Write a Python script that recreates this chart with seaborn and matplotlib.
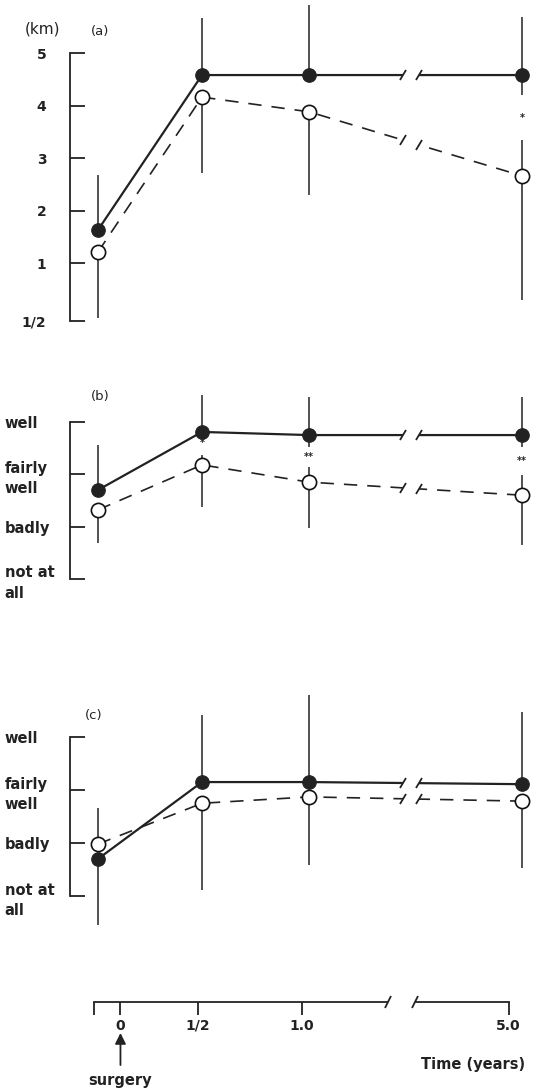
import numpy as np
import pandas as pd
import matplotlib
matplotlib.use("Agg")
import matplotlib.pyplot as plt
import seaborn as sns
from matplotlib.markers import MarkerStyle
from matplotlib.transforms import Affine2D, blended_transform_factory
from matplotlib.patches import Rectangle

# ---------------- data ----------------
time_labels = ["pre-op", "1/2", "1.0", "5.0"]
time_years = [-0.15, 0.5, 1.0, 5.0]

# (a) walking distance (km)
a_filled = [1.63, 4.58, 4.58, 4.58]
a_filled_hi = [2.68, 5.67, 5.91, 5.69]
a_filled_lo = [1.63, 4.58, 4.58, 4.20]
a_open = [1.21, 4.16, 3.88, 2.66]
a_open_hi = [1.21, 4.16, 3.88, 3.34]
a_open_lo = [-0.05, 2.71, 2.30, 0.30]
a_stars = ["", "", "", "*"]
a_ticks = [-0.1, 1, 2, 3, 4, 5]
a_ticklabels = ["1/2", "1", "2", "3", "4", "5"]

# (b)
b_filled = [1.70, 2.81, 2.75, 2.75]
b_filled_hi = [2.56, 3.52, 3.48, 3.48]
b_filled_lo = [1.70, 2.81, 2.52, 2.52]
b_open = [1.32, 2.18, 1.85, 1.60]
b_open_hi = [1.32, 2.37, 2.14, 1.99]
b_open_lo = [0.69, 1.37, 0.97, 0.65]
b_stars = ["", "*", "**", "**"]

# (c)
c_filled = [0.70, 2.15, 2.15, 2.11]
c_filled_hi = [0.70, 3.42, 3.79, 3.47]
c_filled_lo = [-0.55, 2.15, 2.15, 2.11]
c_open = [0.98, 1.75, 1.87, 1.79]
c_open_hi = [1.66, 1.75, 1.87, 1.79]
c_open_lo = [0.98, 0.11, 0.58, 0.53]
c_stars = ["", "", "", ""]

rating_ticks = [0, 1, 2, 3]
rating_labels = ["not at\nall", "badly", "fairly\nwell", "well"]

axis_ticks = [-0.17, 0, 0.5, 1.0, 5.0]
axis_ticklabels = ["", "0", "1/2", "1.0", "5.0"]

# ---------------- style ----------------
sns.set_style("ticks")
plt.rcParams["font.family"] = ["DejaVu Sans"]

W, H = 536, 1089
fig = plt.figure(figsize=(W / 100, H / 100), dpi=100)

INK = "#222222"

# broken, piecewise-linear time scale
T_KNOTS = np.array([-1.0, 0.0, 0.5, 1.0, 5.0, 6.0])
P_KNOTS = np.array([-38.0, 122.0, 202.0, 309.0, 522.0, 575.25])


def fwd(t):
    return np.interp(t, T_KNOTS, P_KNOTS)


def inv(p):
    return np.interp(p, P_KNOTS, T_KNOTS)


XLIM = (float(inv(70)), float(inv(530)))
GAP = (float(inv(403)), float(inv(419)))
GAP_AXIS = (float(inv(398)), float(inv(425)))

slash = MarkerStyle("|", transform=Affine2D().rotate_deg(-30))


def rect(top, bot, left=70, right=530):
    return [left / W, 1 - bot / H, (right - left) / W, (bot - top) / H]


def setup(ax, ylim):
    ax.set_xscale("function", functions=(fwd, inv))
    ax.set_xlim(*XLIM)
    ax.set_ylim(*ylim)
    for s in ["top", "right", "bottom"]:
        ax.spines[s].set_visible(False)
    ax.spines["left"].set_color(INK)
    ax.spines["left"].set_linewidth(1.3)
    ax.patch.set_alpha(0)


def draw_panel(ax, filled, f_hi, f_lo, opn, o_hi, o_lo, stars):
    df_f = pd.DataFrame({"t": time_years, "v": filled})
    df_o = pd.DataFrame({"t": time_years, "v": opn})
    sns.lineplot(data=df_f, x="t", y="v", ax=ax, color=INK, lw=1.6,
                 sort=False, estimator=None, zorder=2)
    sns.lineplot(data=df_o, x="t", y="v", ax=ax, color=INK, lw=1.2,
                 sort=False, estimator=None, zorder=2)
    ax.lines[-1].set_dashes((8, 6))
    # error bars (one-sided)
    ax.vlines(time_years, f_lo, f_hi, colors=INK, lw=1.1, zorder=2, clip_on=False)
    ax.vlines(time_years, o_lo, o_hi, colors=INK, lw=1.1, zorder=2, clip_on=False)
    # break in the time axis
    ax.axvspan(GAP[0], GAP[1], color="white", lw=0, zorder=3)
    for vals in (filled, opn):
        ys = np.interp(GAP, time_years, vals)
        ax.plot(GAP, ys, ls="none", marker=slash, ms=9, mew=1.3,
                color=INK, zorder=5)
    # markers
    sns.scatterplot(x=time_years, y=filled, ax=ax, s=95, color=INK,
                    edgecolor=INK, linewidth=0.8, zorder=6, clip_on=False)
    sns.scatterplot(x=time_years, y=opn, ax=ax, s=105, color="white",
                    edgecolor="#111111", linewidth=1.2, zorder=6, clip_on=False)
    # significance marks
    for t, s, lo, hi in zip(time_years, stars, f_lo, o_hi):
        if s:
            ax.text(t, (lo + hi) / 2, s, ha="center", va="center",
                    fontsize=7, fontweight="bold", color=INK, zorder=7)
    ax.set_xticks([])
    ax.set_xlabel("")
    ax.set_ylabel("")


# ---------------- panel (a) ----------------
ax_a = fig.add_axes(rect(0, 335))
setup(ax_a, (-0.371, 6.0095))
draw_panel(ax_a, a_filled, a_filled_hi, a_filled_lo, a_open, a_open_hi, a_open_lo, a_stars)
ax_a.spines["left"].set_bounds(a_ticks[0], a_ticks[-1])
ax_a.set_yticks(a_ticks)
ax_a.set_yticklabels(a_ticklabels)
ax_a.tick_params(axis="y", direction="in", length=11, width=1.3, color=INK,
                 pad=17, labelsize=10)
for lbl in ax_a.get_yticklabels():
    lbl.set_fontweight("bold")
    lbl.set_color(INK)

# ---------------- panels (b), (c) ----------------
ax_b = fig.add_axes(rect(380, 620))
setup(ax_b, (-0.786, 3.803))
draw_panel(ax_b, b_filled, b_filled_hi, b_filled_lo, b_open, b_open_hi, b_open_lo, b_stars)

ax_c = fig.add_axes(rect(690, 940))
setup(ax_c, (-0.830, 3.887))
draw_panel(ax_c, c_filled, c_filled_hi, c_filled_lo, c_open, c_open_hi, c_open_lo, c_stars)

for ax in (ax_b, ax_c):
    ax.spines["left"].set_bounds(rating_ticks[0], rating_ticks[-1])
    ax.set_yticks(rating_ticks)
    ax.set_yticklabels(rating_labels)
    ax.tick_params(axis="y", direction="in", length=11, width=1.3, color=INK,
                   pad=47, labelsize=10.5)
    for lbl in ax.get_yticklabels():
        lbl.set_fontweight("bold")
        lbl.set_ha("left")
        lbl.set_color(INK)
        lbl.set_linespacing(1.45)

# ---------------- time axis ----------------
ax_t = fig.add_axes(rect(992, 1002, 70, 516.4))
ax_t.set_xscale("function", functions=(fwd, inv))
ax_t.set_xlim(*XLIM)
ax_t.set_ylim(0, 1)
for s in ["top", "right", "left"]:
    ax_t.spines[s].set_visible(False)
ax_t.spines["bottom"].set_color(INK)
ax_t.spines["bottom"].set_linewidth(1.3)
ax_t.spines["bottom"].set_bounds(axis_ticks[0], axis_ticks[-1])
ax_t.set_yticks([])
ax_t.set_xticks(axis_ticks)
ax_t.set_xticklabels(axis_ticklabels)
ax_t.tick_params(axis="x", direction="out", length=9, width=1.3, color=INK,
                 pad=3, labelsize=10)
for lbl in ax_t.get_xticklabels():
    lbl.set_fontweight("bold")
    lbl.set_color(INK)
ax_t.patch.set_alpha(0)
tr = blended_transform_factory(ax_t.transData, ax_t.transAxes)
ax_t.add_patch(Rectangle((GAP_AXIS[0], -0.5), GAP_AXIS[1] - GAP_AXIS[0], 1.0,
                         transform=tr, color="white", lw=0, zorder=3, clip_on=False))
ax_t.plot(GAP_AXIS, [0, 0], ls="none", marker=slash, ms=10, mew=1.3,
          color=INK, zorder=5, clip_on=False)
ax_t.annotate("surgery", xy=(0, -3.1), xytext=(0, -7.8),
              xycoords="data", textcoords="data", ha="center", va="center",
              fontsize=10.5, fontweight="bold", color=INK, annotation_clip=False,
              arrowprops=dict(arrowstyle="-|>", color=INK, lw=1.3,
                              mutation_scale=16, shrinkA=3, shrinkB=0))

# ---------------- texts ----------------
fig.text(42 / W, 1 - 29 / H, "(km)", ha="center", va="center", fontsize=11, color=INK)
fig.text(100 / W, 1 - 31 / H, "(a)", ha="center", va="center", fontsize=9.5, color=INK)
fig.text(100 / W, 1 - 397 / H, "(b)", ha="center", va="center", fontsize=9.5, color=INK)
fig.text(94 / W, 1 - 716 / H, "(c)", ha="center", va="center", fontsize=9.5, color=INK)
fig.text(473 / W, 1 - 1065 / H, "Time (years)", ha="center", va="center",
         fontsize=10.5, fontweight="bold", color=INK)

fig.savefig("out.png", dpi=100)
